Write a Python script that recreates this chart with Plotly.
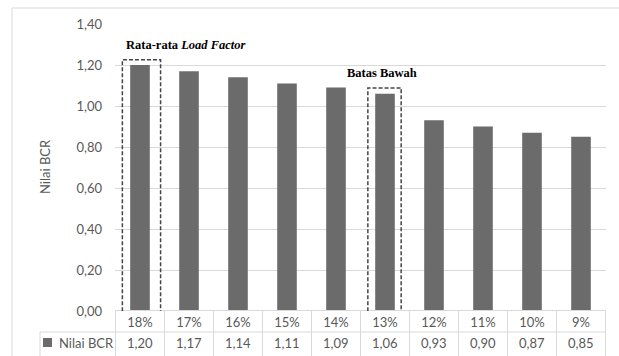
import plotly.graph_objects as go

# Discount-rate scenarios and resulting benefit-cost ratios
categories = ["18%", "17%", "16%", "15%", "14%", "13%", "12%", "11%", "10%", "9%"]
bcr_values = [1.20, 1.17, 1.14, 1.11, 1.09, 1.06, 0.93, 0.90, 0.87, 0.85]
series_name = "Nilai BCR"
y_ticks = [0.0, 0.2, 0.4, 0.6, 0.8, 1.0, 1.2, 1.4]

W, H = 619, 356


def px(x):
    return x / W


def py(y):
    return 1 - y / H


GRID = "#d9d9d9"
TXT = "#595959"
BAR = "#6b6b6b"
FONT = "Lato"
DASH = "4px,2px"

fig = go.Figure(
    go.Bar(
        x=categories,
        y=bcr_values,
        marker=dict(color=BAR, line=dict(width=0)),
        width=0.4,
        name=series_name,
        showlegend=False,
    )
)

left, right, top, bottom = 115, 606, 24, 311

shapes = []
# outer chart frame
shapes.append(dict(type="line", xref="paper", yref="paper", x0=px(12), x1=px(12),
                   y0=py(8), y1=-0.1, line=dict(color=GRID, width=1)))
shapes.append(dict(type="line", xref="paper", yref="paper", x0=px(12), x1=1.1,
                   y0=py(8), y1=py(8), line=dict(color=GRID, width=1)))

# data table grid under the plot
shapes.append(dict(type="line", xref="paper", yref="paper", x0=px(left), x1=px(right),
                   y0=py(310.5), y1=py(310.5), line=dict(color=GRID, width=1)))
shapes.append(dict(type="line", xref="paper", yref="paper", x0=px(40), x1=px(right),
                   y0=py(332), y1=py(332), line=dict(color=GRID, width=1)))
shapes.append(dict(type="line", xref="paper", yref="paper", x0=px(40), x1=px(40),
                   y0=py(332), y1=-0.1, line=dict(color=GRID, width=1)))
for i in range(len(categories) + 1):
    shapes.append(dict(type="line", xref="x", yref="paper", x0=i - 0.5, x1=i - 0.5,
                       y0=py(310.5), y1=-0.1, line=dict(color=GRID, width=1)))

# legend key in the table row
shapes.append(dict(type="rect", xref="paper", yref="paper", x0=px(43), x1=px(52),
                   y0=py(347), y1=py(338), fillcolor=BAR, line=dict(width=0)))

# dashed highlight boxes
shapes.append(dict(type="rect", xref="x", yref="y", x0=-0.36, x1=0.42,
                   y0=-0.005, y1=1.225, line=dict(color="#454545", width=1.5, dash=DASH)))
shapes.append(dict(type="rect", xref="x", yref="y", x0=5 - 0.35, x1=5 + 0.33,
                   y0=-0.005, y1=1.088, line=dict(color="#454545", width=1.5, dash=DASH)))

annotations = []
# values row of the table
for cat, v in zip(categories, bcr_values):
    annotations.append(dict(x=cat, xref="x", y=py(343), yref="paper",
                            text=f"{v:.2f}".replace(".", ","), showarrow=False,
                            font=dict(family=FONT, size=13, color=TXT),
                            xanchor="center", yanchor="middle"))
annotations.append(dict(x=px(57), xref="paper", y=py(343), yref="paper", text=series_name,
                        showarrow=False, font=dict(family=FONT, size=13, color=TXT),
                        xanchor="left", yanchor="middle"))
# axis title
annotations.append(dict(x=px(45), xref="paper", y=py(167), yref="paper", text="Nilai BCR",
                        textangle=-90, showarrow=False,
                        font=dict(family=FONT, size=13, color=TXT),
                        xanchor="center", yanchor="middle"))
# callout labels
annotations.append(dict(x=px(186), xref="paper", y=py(45), yref="paper",
                        text="<b>Rata-rata <i>Load Factor</i></b>", showarrow=False,
                        font=dict(family="Liberation Serif", size=12.5, color="#000000"),
                        xanchor="center", yanchor="middle"))
annotations.append(dict(x=px(382), xref="paper", y=py(73), yref="paper",
                        text="<b>Batas Bawah</b>", showarrow=False,
                        font=dict(family="Liberation Serif", size=12.5, color="#000000"),
                        xanchor="center", yanchor="middle"))

fig.update_layout(
    width=W, height=H,
    margin=dict(l=0, r=0, t=0, b=0, autoexpand=False),
    paper_bgcolor="white", plot_bgcolor="white",
    separators=",.",
    shapes=shapes,
    annotations=annotations,
    xaxis=dict(domain=[px(left), px(right)], type="category", categoryorder="array",
               categoryarray=categories, showgrid=False, zeroline=False, showline=False,
               automargin=False, ticks="",
               tickfont=dict(family=FONT, size=13, color=TXT), ticklabelstandoff=2),
    yaxis=dict(domain=[py(bottom), py(top)], range=[0, 1.4], tickvals=y_ticks,
               tickformat=".2f", showgrid=True, gridcolor=GRID, gridwidth=1,
               zeroline=False, showline=False, ticks="", automargin=False,
               tickfont=dict(family=FONT, size=13, color=TXT), ticklabelstandoff=12),
)

fig.write_html("out.html")
